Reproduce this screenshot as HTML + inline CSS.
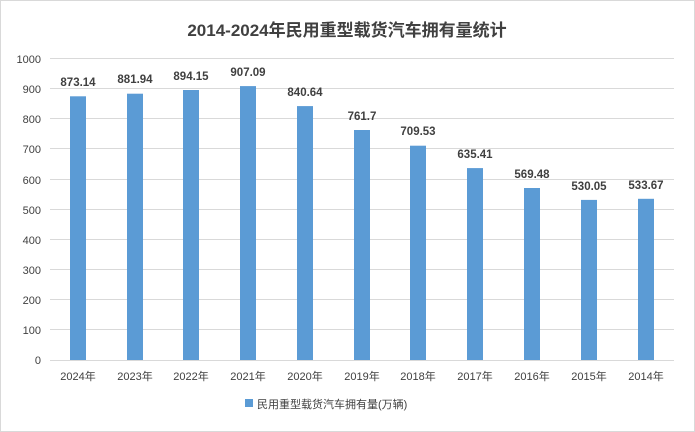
<!DOCTYPE html>
<html><head><meta charset="utf-8"><style>
body{margin:0;background:#fff}
svg{display:block;font-family:"Liberation Sans","Noto Sans CJK SC",sans-serif}
</style></head><body>
<svg width="695" height="432" viewBox="0 0 695 432">
<rect x="0.5" y="0.5" width="694" height="431" fill="#fff" stroke="#d9d9d9"/>
<text x="347" y="36" text-anchor="middle" font-size="17" font-weight="bold" fill="#404040">2014-2024年民用重型载货汽车拥有量统计</text>
<g stroke="#d9d9d9" stroke-width="1">
<line x1="50" x2="674" y1="58.5" y2="58.5"/><line x1="50" x2="674" y1="88.5" y2="88.5"/>
<line x1="50" x2="674" y1="118.5" y2="118.5"/><line x1="50" x2="674" y1="148.5" y2="148.5"/>
<line x1="50" x2="674" y1="179.5" y2="179.5"/><line x1="50" x2="674" y1="209.5" y2="209.5"/>
<line x1="50" x2="674" y1="239.5" y2="239.5"/><line x1="50" x2="674" y1="269.5" y2="269.5"/>
<line x1="50" x2="674" y1="299.5" y2="299.5"/><line x1="50" x2="674" y1="329.5" y2="329.5"/>
<line x1="50" x2="674" y1="360.5" y2="360.5"/>
</g>
<g font-size="11" fill="#404040" text-anchor="end">
<text x="41" y="63">1000</text><text x="41" y="93">900</text><text x="41" y="123">800</text>
<text x="41" y="153">700</text><text x="41" y="184">600</text><text x="41" y="214">500</text>
<text x="41" y="244">400</text><text x="41" y="274">300</text><text x="41" y="304">200</text>
<text x="41" y="334">100</text><text x="41" y="364">0</text>
</g>
<g fill="#5b9bd5">
<rect x="70" y="96.3" width="16" height="263.7"/>
<rect x="127" y="93.7" width="16" height="266.3"/>
<rect x="183" y="90" width="16" height="270"/>
<rect x="240" y="86.1" width="16" height="273.9"/>
<rect x="297" y="106.1" width="16" height="253.9"/>
<rect x="354" y="130" width="16" height="230"/>
<rect x="410" y="145.7" width="16" height="214.3"/>
<rect x="467" y="168.1" width="16" height="191.9"/>
<rect x="524" y="188" width="16" height="172"/>
<rect x="581" y="199.9" width="16" height="160.1"/>
<rect x="638" y="198.8" width="16" height="161.2"/>
</g>
<g font-size="11.5" font-weight="bold" fill="#404040" text-anchor="middle">
<text x="78" y="86">873.14</text><text x="135" y="83">881.94</text><text x="191" y="80">894.15</text>
<text x="248" y="76">907.09</text><text x="305" y="96">840.64</text><text x="362" y="120">761.7</text>
<text x="418" y="135">709.53</text><text x="475" y="158">635.41</text><text x="532" y="178">569.48</text>
<text x="589" y="190">530.05</text><text x="646" y="189">533.67</text>
</g>
<g font-size="11" fill="#404040" text-anchor="middle">
<text x="78" y="380">2024年</text><text x="135" y="380">2023年</text><text x="191" y="380">2022年</text>
<text x="248" y="380">2021年</text><text x="305" y="380">2020年</text><text x="362" y="380">2019年</text>
<text x="418" y="380">2018年</text><text x="475" y="380">2017年</text><text x="532" y="380">2016年</text>
<text x="589" y="380">2015年</text><text x="646" y="380">2014年</text>
</g>
<rect x="245" y="399" width="8" height="8" fill="#5b9bd5"/>
<text x="257" y="408" font-size="11" fill="#404040">民用重型载货汽车拥有量(万辆)</text>
</svg>
</body></html>
